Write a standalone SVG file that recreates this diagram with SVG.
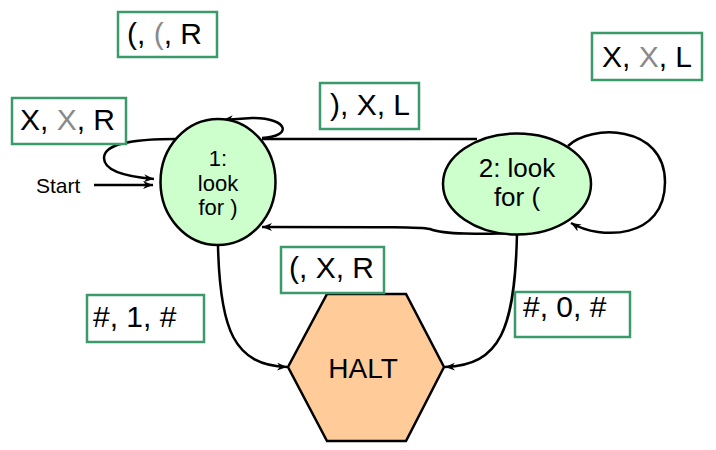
<svg xmlns="http://www.w3.org/2000/svg" width="716" height="450" viewBox="0 0 716 450">
<style>
.edge{fill:none;stroke:#000;stroke-width:2.5}
.state{fill:#CCFFCC;stroke:#000;stroke-width:2.5}
.halt{fill:#FFCC99;stroke:#000;stroke-width:2.5}
.lbl{fill:#fff;stroke:#3A9A6A;stroke-width:2.5}
.t{font-family:"Liberation Sans",Arial,sans-serif;fill:#000}
.g{fill:#8A8A8A}
</style>
<defs>
<marker id="ah" markerUnits="userSpaceOnUse" markerWidth="12" markerHeight="10" refX="10" refY="4" orient="auto">
<path d="M0,0 L10,4 L0,8 L3,4 Z" fill="#000"/>
</marker>
</defs>
<g id="connectors">
<path class="edge" d="M94 185 L153 185" marker-end="url(#ah)"/>
<path class="edge" d="M176 139 C140 139 104 142 104 158 C104 172 130 177 154 179" marker-end="url(#ah)"/>
<path class="edge" d="M262 138 C292 137 290 118 252 118 L223 120" marker-end="url(#ah)"/>
<path class="edge" d="M262 139 L477 139"/>
<path class="edge" d="M516 233 C480 234 445 235 430 229 C420 227 400 227 262 227" marker-end="url(#ah)"/>
<path class="edge" d="M568 146 C590 124 665 124 665 182 C665 240 600 240 571 223" marker-end="url(#ah)"/>
<path class="edge" d="M218 246 C220 330 234 365 287 367" marker-end="url(#ah)"/>
<path class="edge" d="M517 233 C515 330 500 365 445 367" marker-end="url(#ah)"/>
</g>
<g id="state1">
<ellipse class="state" cx="218" cy="182" rx="57.5" ry="63"/>
<text class="t" x="218" y="166" font-size="22" text-anchor="middle">1:</text>
<text class="t" x="218" y="191" font-size="22" text-anchor="middle">look</text>
<text class="t" x="218" y="215" font-size="22" text-anchor="middle">for )</text>
</g>
<g id="state2">
<ellipse class="state" cx="517" cy="184" rx="74" ry="50.5"/>
<text class="t" x="517" y="177" font-size="26" text-anchor="middle">2: look</text>
<text class="t" x="517" y="206" font-size="26" text-anchor="middle">for (</text>
</g>
<g id="halt">
<polygon class="halt" points="327,294 406,294 444,367 406,441 327,441 288,367"/>
<text class="t" x="363" y="378" font-size="28" text-anchor="middle">HALT</text>
</g>
<g id="start">
<text class="t" x="36" y="193" font-size="21">Start</text>
</g>
<g id="label-lpar-lpar-R">
<rect class="lbl" x="118" y="12" width="99" height="45"/>
<text class="t" x="127" y="44" font-size="30">(, <tspan class="g">(</tspan>, R</text>
</g>
<g id="label-X-X-L">
<rect class="lbl" x="592" y="33" width="110" height="47"/>
<text class="t" x="602" y="67" font-size="30">X, <tspan class="g">X</tspan>, L</text>
</g>
<g id="label-X-X-R">
<rect class="lbl" x="12" y="98" width="114" height="46"/>
<text class="t" x="20" y="130" font-size="30">X, <tspan class="g">X</tspan>, R</text>
</g>
<g id="label-rpar-X-L">
<rect class="lbl" x="320" y="83" width="99" height="46"/>
<text class="t" x="330" y="115" font-size="30">), X, L</text>
</g>
<g id="label-lpar-X-R">
<rect class="lbl" x="281" y="247" width="103" height="46"/>
<text class="t" x="289" y="278" font-size="30">(, X, R</text>
</g>
<g id="label-hash-1">
<rect class="lbl" x="87" y="295" width="117" height="47"/>
<text class="t" x="93" y="327" font-size="30">#, 1, #</text>
</g>
<g id="label-hash-0">
<rect class="lbl" x="515" y="292" width="115" height="45"/>
<text class="t" x="523" y="317" font-size="30">#, 0, #</text>
</g>
</svg>
